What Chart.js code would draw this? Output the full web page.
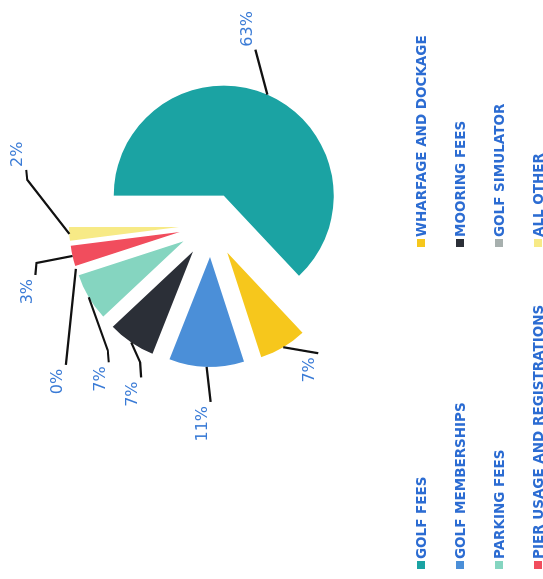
<!DOCTYPE html>
<html lang="en">
<head>
<meta charset="UTF-8">
<title>Revenue by Source</title>
<script src="https://cdn.jsdelivr.net/npm/chart.js@4"></script>
<style>
  html, body { margin: 0; padding: 0; background: #fff; overflow: hidden; }
  body { width: 543px; height: 579px; position: relative; }
  /* the scanned page is turned a quarter left, so the whole chart is drawn upright and rotated */
  #page { position: absolute; left: -18px; top: 18px; width: 579px; height: 543px; transform: rotate(-90deg); }
  #chart { position: absolute; left: 0; top: 0; }
  #legend { position: absolute; left: 10px; top: 402px; display: grid; grid-template-columns: 322px 240px; grid-auto-rows: 38.8px;
            font: bold 13.5px "DejaVu Sans", sans-serif; color: #2c6cd2; }
  .item { display: flex; align-items: center; white-space: nowrap; }
  .sw { width: 8px; height: 8px; margin-right: 2px; flex: none; }
</style>
</head>
<body>
<div id="page">
  <canvas id="chart" width="579" height="543"></canvas>
  <div id="legend"></div>
</div>

<script>
// data, in the order the slices run clockwise from 12 o'clock
const categories = ['GOLF FEES', 'WHARFAGE AND DOCKAGE', 'GOLF MEMBERSHIPS', 'MOORING FEES',
                    'PARKING FEES', 'GOLF SIMULATOR', 'PIER USAGE AND REGISTRATIONS', 'ALL OTHER'];
const shares = [63, 7, 11, 7, 7, 0, 3, 2];
const percentLabels = ['63%', '7%', '11%', '7%', '7%', '0%', '3%', '2%'];

const sliceColors = ['#1ba3a3', '#f6c71c', '#4b8fd8', '#2b2f37', '#85d5c0', '#a7b0ae', '#f14d5d', '#f7ea86'];

// leader line bends, relative to the point on each slice's rim
const leaderPath = [
    [[45, -12]],
    [[-6, 35]],
    [[-35, 4]],
    [[-20, 9], [-15, 1]],
    [[-53, 19], [-12, 1]],
    [[-96, -10]],
    [[-7, -36], [-12, -1]],
    [[54, -42], [10, -1]]
];
const EXPLODE = 32;

// draws every arc pushed out from the centre
const explodePlugin = {
    id: 'explode',
    beforeDatasetDraw(chart, args) {
        const ctx = chart.ctx;
        args.meta.data.forEach(arc => {
            const mid = (arc.startAngle + arc.endAngle) / 2;
            ctx.save();
            ctx.translate(Math.cos(mid) * EXPLODE, Math.sin(mid) * EXPLODE);
            arc.draw(ctx);
            ctx.restore();
        });
        return false;
    }
};

const leaderPlugin = {
    id: 'leaders',
    afterDraw(chart) {
        const ctx = chart.ctx;
        const arcs = chart.getDatasetMeta(0).data;
        arcs.forEach((arc, i) => {
            const mid = (arc.startAngle + arc.endAngle) / 2;
            const dist = arc.outerRadius + EXPLODE;
            let x = arc.x + Math.cos(mid) * dist;
            let y = arc.y + Math.sin(mid) * dist;
            ctx.save();
            ctx.strokeStyle = '#111';
            ctx.lineWidth = 2.2;
            ctx.beginPath();
            ctx.moveTo(x, y);
            leaderPath[i].forEach(p => {
                x += p[0];
                y += p[1];
                ctx.lineTo(x, y);
            });
            ctx.stroke();
            // labels whose leader ends heading right sit to the right of it
            const right = leaderPath[i][leaderPath[i].length - 1][0] > 0;
            ctx.fillStyle = '#3a7bd6';
            ctx.font = '16px "DejaVu Sans", sans-serif';
            ctx.textBaseline = 'middle';
            ctx.textAlign = right ? 'left' : 'right';
            ctx.fillText(percentLabels[i], right ? x + 3 : x - 4, y - 8);
            ctx.restore();
        });
    }
};

new Chart(document.getElementById('chart'), {
    type: 'pie',
    data: {
        labels: categories,
        datasets: [{
            data: shares,
            backgroundColor: sliceColors,
            borderWidth: 0
        }]
    },
    options: {
        responsive: false,
        animation: false,
        radius: 110,
        layout: { padding: { left: 129, right: 0, top: 4, bottom: 125 } },
        plugins: {
            legend: { display: false },
            tooltip: { enabled: false }
        }
    },
    plugins: [explodePlugin, leaderPlugin]
});

// legend: two columns, filled row by row like the original
const legend = document.getElementById('legend');
legend.innerHTML = categories.map((name, i) =>
    `<div class="item"><span class="sw" style="background:${sliceColors[i]}"></span>${name}</div>`
).join('');
</script>
</body>
</html>
